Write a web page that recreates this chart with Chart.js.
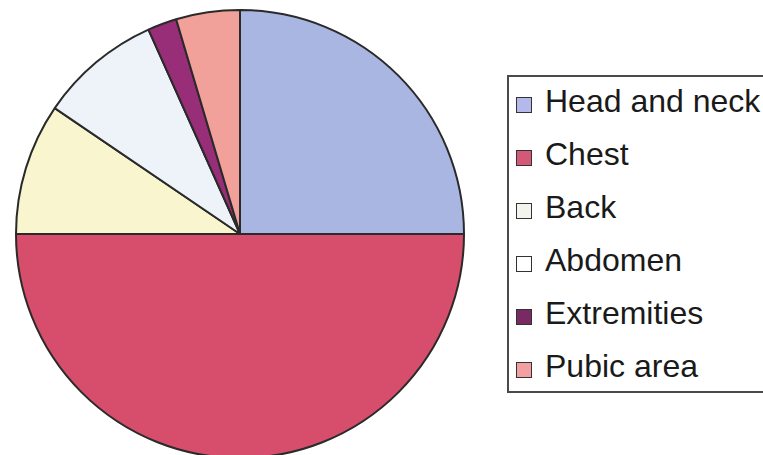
<!DOCTYPE html>
<html>
<head>
<meta charset="utf-8">
<script src="https://cdn.jsdelivr.net/npm/chart.js@4.4.1/dist/chart.umd.min.js"></script>
<style>
  html, body { margin: 0; padding: 0; background: #ffffff; overflow: hidden; width: 763px; height: 455px; }
  #wrap { position: absolute; left: 0; top: 0; width: 763px; height: 466px; }
  #legend { position: absolute; left: 507px; top: 75px; width: 300px; height: 318px; box-sizing: border-box; border: 2px solid #4a4a4a; background: #fff; }
  .row { position: absolute; left: 0; font-family: "Liberation Sans", Arial, sans-serif; font-size: 32px; line-height: 32px; color: #1a1a1a; white-space: nowrap; }
  .mk { position: absolute; width: 14px; height: 14px; border: 1.6px solid #333; }
</style>
</head>
<body>
<div id="wrap"><canvas id="c" width="763" height="466"></canvas></div>
<div id="legend"></div>
<script>
// ---- data ----
const categories = ["Head and neck", "Chest", "Back", "Abdomen", "Extremities", "Pubic area"];
const percentages = [25, 50, 9.5, 8.8, 2.1, 4.6];
const sliceColors = ["#a9b6e2", "#d74d6c", "#f8f5cf", "#eef3f9", "#982d78", "#f2a09a"];
const markerColors = ["#b4b8ea", "#d45878", "#f4f4ee", "#ffffff", "#7a2a62", "#f2a0a2"];

const chart = new Chart(document.getElementById('c'), {
  type: 'pie',
  data: {
    labels: categories,
    datasets: [{
      data: percentages,
      backgroundColor: sliceColors,
      borderColor: '#2a2a2a',
      borderWidth: 2,
      hoverOffset: 0
    }]
  },
  options: {
    responsive: false,
    animation: false,
    events: [],
    layout: { padding: { left: 15, right: 298, top: 9, bottom: 7 } },
    plugins: { legend: { display: false }, tooltip: { enabled: false }, title: { display: false } }
  }
});

// HTML legend built from the same arrays
const legend = document.getElementById('legend');
const legLeft = 507, legTop = 75;
categories.forEach((name, i) => {
  const baseline = 112 + i * 53;
  const row = document.createElement('div');
  row.className = 'row';
  row.style.left = (545 - legLeft - 2) + 'px';
  row.style.top = (baseline - 27 - legTop - 2) + 'px';
  row.textContent = name;
  legend.appendChild(row);
  const mk = document.createElement('div');
  mk.className = 'mk';
  mk.style.background = markerColors[i];
  mk.style.left = (516 - legLeft - 2) + 'px';
  mk.style.top = (baseline - 15 - legTop - 2) + 'px';
  legend.appendChild(mk);
});
</script>
</body>
</html>
